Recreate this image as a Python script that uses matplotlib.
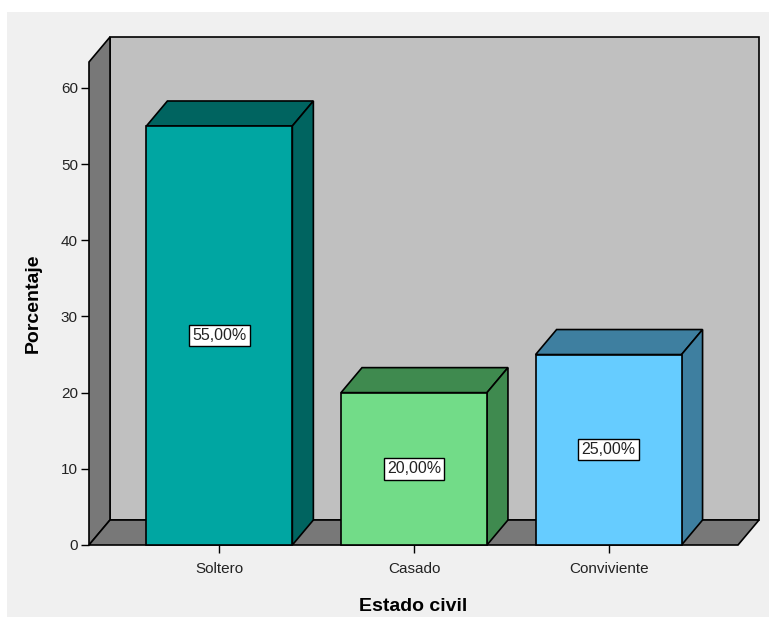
import matplotlib; matplotlib.use("Agg")
import matplotlib.pyplot as plt
from matplotlib.patches import Polygon, Rectangle

categorias = ["Soltero", "Casado", "Conviviente"]
porcentajes = [55.0, 20.0, 25.0]
etiquetas = ["55,00%", "20,00%", "25,00%"]
yticks = [0, 10, 20, 30, 40, 50, 60]

frente = ["#00a6a2", "#72dc88", "#66ccff"]
lado = ["#006460", "#3f8a4f", "#3e7fa0"]

plt.rcParams["font.family"] = ["Liberation Sans", "DejaVu Sans"]

W, H, DPI = 769, 617, 100
fig = plt.figure(figsize=(W / DPI, H / DPI), dpi=DPI, facecolor="white")
# fondo gris del visor, con margen blanco arriba e izquierda
fig.patches.append(Rectangle((7 / W, 0), 1, 1 - 12 / H, transform=fig.transFigure,
                             facecolor="#f0f0f0", edgecolor="none", zorder=-10))

# plano frontal del grafico en pixeles
x0p, x1p, y0p, y1p = 89, 738, 545, 62
ax = fig.add_axes([x0p / W, (H - y0p) / H, (x1p - x0p) / W, (y0p - y1p) / H])
ax.patch.set_visible(False)
for s in ax.spines.values():
    s.set_visible(False)

XMIN, XMAX, YMAX = -0.67, 2.665, 63.4
ax.set_xlim(XMIN, XMAX)
ax.set_ylim(0, YMAX)

# profundidad 3D en pixeles -> datos
DXP, DYP = 21, 25
ppx = (x1p - x0p) / (XMAX - XMIN)
ppy = (y0p - y1p) / YMAX
dx, dy = DXP / ppx, DYP / ppy

ek = dict(edgecolor="black", linewidth=1.2, clip_on=False, joinstyle="miter")

# paredes: fondo, izquierda y suelo
ax.add_patch(Polygon([(XMIN + dx, dy), (XMAX + dx, dy), (XMAX + dx, YMAX + dy),
                      (XMIN + dx, YMAX + dy)], facecolor="#c0c0c0", zorder=1, **ek))
ax.add_patch(Polygon([(XMIN, 0), (XMIN + dx, dy), (XMIN + dx, YMAX + dy), (XMIN, YMAX)],
                     facecolor="#787878", zorder=2, **ek))
ax.add_patch(Polygon([(XMIN, 0), (XMAX, 0), (XMAX + dx, dy), (XMIN + dx, dy)],
                     facecolor="#787878", zorder=2, **ek))

ancho = 0.75
for i, (v, cf, cl) in enumerate(zip(porcentajes, frente, lado)):
    l, r = i - ancho / 2, i + ancho / 2
    ax.add_patch(Polygon([(l, v), (r, v), (r + dx, v + dy), (l + dx, v + dy)],
                         facecolor=cl, zorder=3, **ek))
    ax.add_patch(Polygon([(r, 0), (r + dx, dy), (r + dx, v + dy), (r, v)],
                         facecolor=cl, zorder=3, **ek))
    ax.add_patch(Rectangle((l, 0), ancho, v, facecolor=cf, zorder=4, **ek))
    ax.text(i, v / 2, etiquetas[i], ha="center", va="center", fontsize=11.5, zorder=6,
            color="#222222",
            bbox=dict(boxstyle="square,pad=0.2", facecolor="white", edgecolor="black",
                      linewidth=1.0))

ax.set_yticks(yticks)
ax.set_yticklabels([str(t) for t in yticks])
ax.set_xticks(range(len(categorias)))
ax.set_xticklabels(categorias)
ax.tick_params(axis="both", direction="out", length=6, width=1.0, color="black",
               labelsize=11, labelcolor="#222222", pad=2)
ax.tick_params(axis="x", pad=6)

ax.set_xlabel("Estado civil", fontsize=14, fontweight="bold", labelpad=16)
ax.set_ylabel("Porcentaje", fontsize=14, fontweight="bold", labelpad=14)

fig.savefig("out.png", dpi=DPI, facecolor=fig.get_facecolor())
